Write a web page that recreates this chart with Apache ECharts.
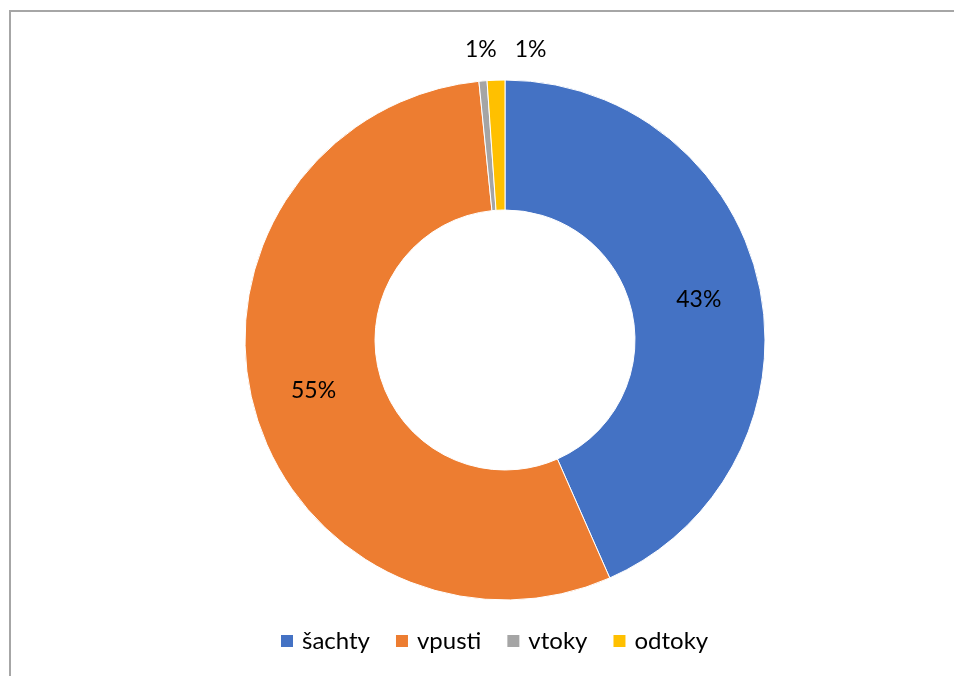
<!DOCTYPE html>
<html>
<head>
<meta charset="utf-8">
<script src="https://cdn.jsdelivr.net/npm/echarts@6/dist/echarts.min.js"></script>
<style>
html,body{margin:0;padding:0;background:#fff;overflow:hidden;}
#frame{position:absolute;left:9px;top:10px;width:1200px;height:900px;border-top:2px solid #a6a6a6;border-left:2px solid #a6a6a6;box-sizing:border-box;}
#chart{position:absolute;left:0;top:0;width:954px;height:676px;}
</style>
</head>
<body>
<div id="frame"></div>
<div id="chart"></div>
<script>
const categories = ['šachty', 'vpusti', 'vtoky', 'odtoky'];
const values = [43.4, 55.0, 0.5, 1.1];
const colors = ['#4472C4', '#ED7D31', '#A5A5A5', '#FFC000'];
const outsideItems = ['vtoky', 'odtoky'];

const FONT = 'Lato, "Open Sans", sans-serif';
const chart = echarts.init(document.getElementById('chart'));

const data = categories.map((name, i) => {
  const item = { name: name, value: values[i], itemStyle: { color: colors[i] } };
  if (outsideItems.includes(name)) {
    item.label = { position: 'outside', offset: name === 'vtoky' ? [20, -17] : [56, -17] };
    item.labelLine = { show: false, length: 14, length2: 0 };
  }
  return item;
});

chart.setOption({
  animation: false,
  legend: {
    data: categories,
    top: 624,
    left: 274,
    icon: 'rect',
    itemWidth: 14,
    itemHeight: 14,
    itemGap: 24,
    textStyle: { fontFamily: FONT, fontSize: 24, color: '#000', padding: [0, 0, 0, 3] }
  },
  series: [{
    type: 'pie',
    center: [505, 340],
    radius: [130, 260],
    startAngle: 90,
    clockwise: true,
    avoidLabelOverlap: false,
    label: {
      show: true,
      position: 'inside',
      fontFamily: FONT,
      fontSize: 23,
      color: '#000',
      formatter: p => Math.round(p.percent) + '%'
    },
    labelLine: { show: false },
    itemStyle: { borderColor: '#fff', borderWidth: 1 },
    emphasis: { disabled: true },
    data: data
  }]
});
</script>
</body>
</html>
